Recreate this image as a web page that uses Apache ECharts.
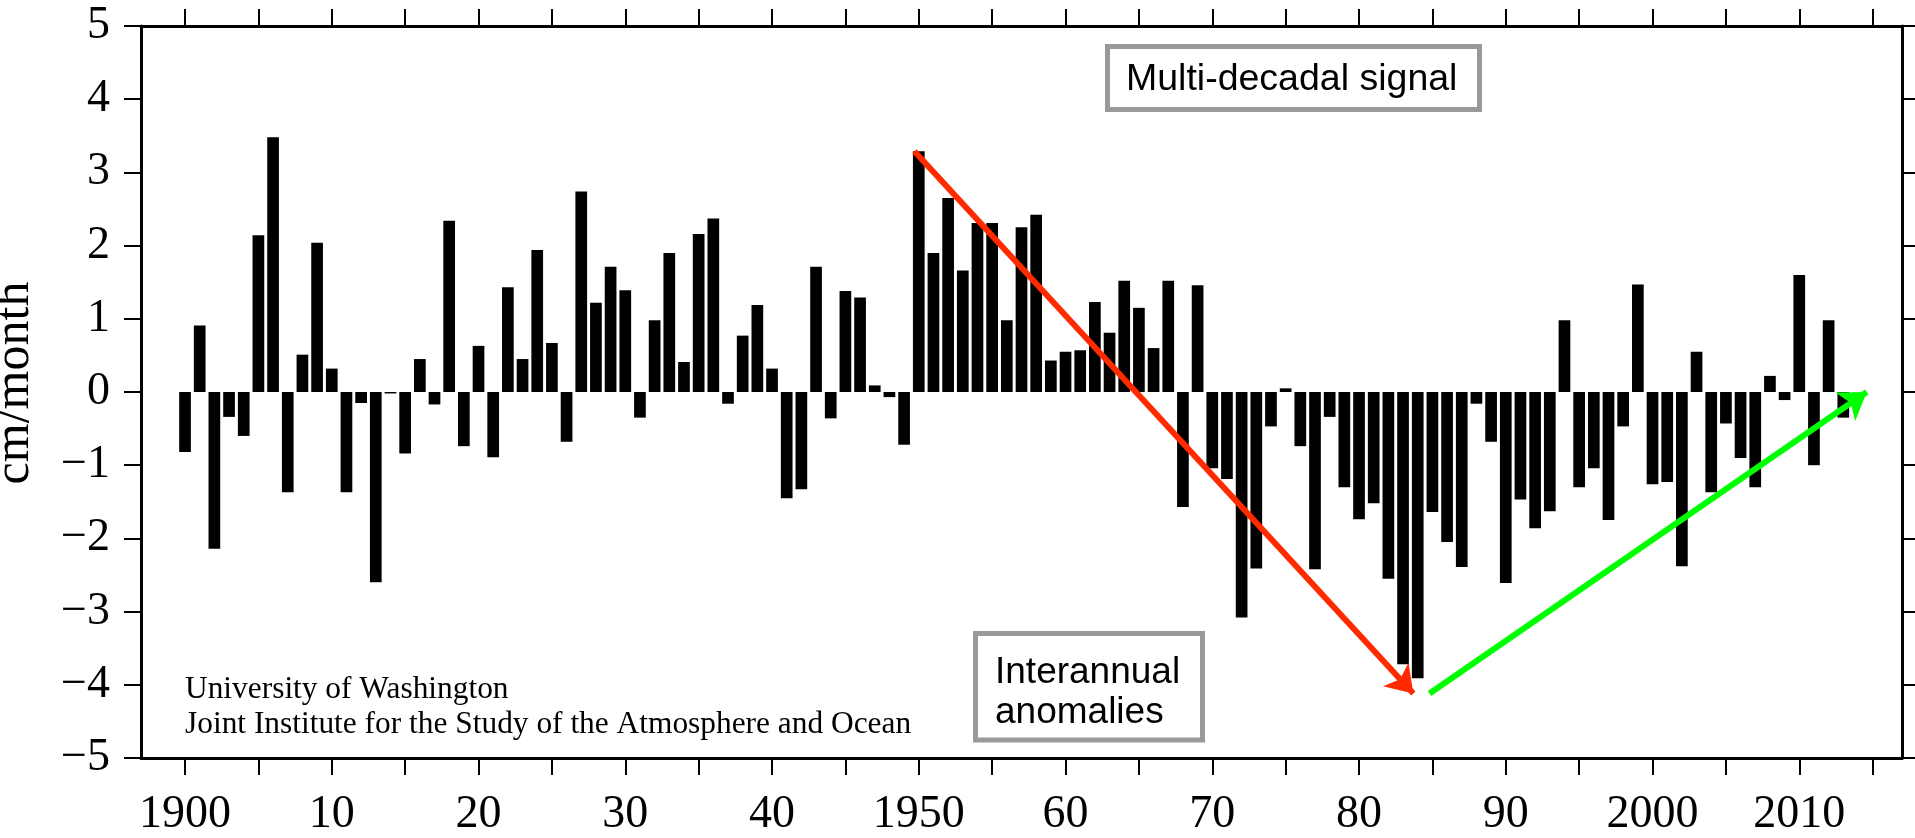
<!DOCTYPE html>
<html><head><meta charset="utf-8">
<script src="https://cdn.jsdelivr.net/npm/echarts@6/dist/echarts.min.js"></script>
<style>html,body{margin:0;padding:0;background:#fff}#chart{width:1915px;height:838px}</style>
</head><body><div id="chart"></div>
<script>
// ---- data ----
const firstYear = 1900;
const anomalies1900to1949 = [
  -0.82, 0.91, -2.14, -0.34, -0.60, 2.14, 3.48, -1.37, 0.51, 2.04,
   0.32, -1.37, -0.15, -2.60, -0.02, -0.84, 0.45, -0.17, 2.34, -0.74,
   0.63, -0.89, 1.43, 0.45, 1.94, 0.67, -0.68, 2.74, 1.22, 1.71,
   1.39, -0.35, 0.98, 1.90, 0.41, 2.16, 2.37, -0.16, 0.77, 1.19,
   0.32, -1.45, -1.33, 1.71, -0.36, 1.38, 1.29, 0.09, -0.07, -0.72
];
const anomalies1950to2013 = [
   3.29, 1.90, 2.65, 1.66, 2.31, 2.31, 0.98, 2.25, 2.42, 0.43,
   0.55, 0.57, 1.23, 0.81, 1.52, 1.15, 0.60, 1.52, -1.57, 1.46,
  -1.04, -1.19, -3.08, -2.41, -0.47, 0.05, -0.74, -2.42, -0.34, -1.30,
  -1.74, -1.52, -2.55, -3.72, -3.91, -1.64, -2.05, -2.39, -0.16, -0.68,
  -2.61, -1.47, -1.86, -1.63, 0.98, -1.30, -1.04, -1.75, -0.47, 1.47,
  -1.26, -1.23, -2.38, 0.55, -1.37, -0.43, -0.90, -1.30, 0.22, -0.11,
   1.60, -1.00, 0.98, -0.35
];
const xTickYears = [1900,1905,1910,1915,1920,1925,1930,1935,1940,1945,1950,1955,
                    1960,1965,1970,1975,1980,1985,1990,1995,2000,2005,2010,2015];
const xLabelYears = [1900,1910,1920,1930,1940,1950,1960,1970,1980,1990,2000,2010];
const xLabelTexts = ['1900','10','20','30','40','1950','60','70','80','90','2000','2010'];
const redArrow = [[1949.7, 3.29], [1983.7, -4.12]];
const greenArrow = [[1984.8, -4.12], [2014.6, 0.0]];

// ---- build ----
const anomalies = anomalies1900to1949.concat(anomalies1950to2013);
const barData = anomalies.map((v, i) => [firstYear + i, v]);

const serif = '"Liberation Serif", "Times New Roman", serif';
const sans = '"Liberation Sans", Arial, Helvetica, sans-serif';
const axisLineStyle = { color: '#000', width: 3 };
const tickStyle = { color: '#000', width: 2 };

const chart = echarts.init(document.getElementById('chart'), null, { renderer: 'canvas' });
chart.setOption({
  animation: false,
  backgroundColor: '#fff',
  grid: { left: 141, top: 26, width: 1761, height: 732, containLabel: false, outerBoundsMode: 'none' },
  xAxis: [
    {
      type: 'value', position: 'bottom', min: 1897, max: 2017,
      axisLine: { show: true, onZero: false, lineStyle: axisLineStyle },
      axisTick: { show: true, length: 17, lineStyle: tickStyle, customValues: xTickYears },
      axisLabel: {
        show: true, margin: 34, fontFamily: serif, fontSize: 46, color: '#000',
        customValues: xLabelYears,
        formatter: v => { const k = xLabelYears.indexOf(Math.round(v)); return k >= 0 ? xLabelTexts[k] : ''; }
      },
      splitLine: { show: false }
    },
    {
      type: 'value', position: 'top', min: 1897, max: 2017,
      axisLine: { show: true, onZero: false, lineStyle: axisLineStyle },
      axisTick: { show: true, length: 17, lineStyle: tickStyle, customValues: xTickYears },
      axisLabel: { show: false },
      splitLine: { show: false }
    }
  ],
  yAxis: [
    {
      type: 'value', position: 'left', min: -5, max: 5, interval: 1,
      name: 'cm/month', nameLocation: 'middle', nameGap: 101, nameRotate: 90,
      nameTextStyle: { fontFamily: serif, fontSize: 50, color: '#000', padding: [0, 0, 0, 18] },
      axisLine: { show: true, onZero: false, lineStyle: axisLineStyle },
      axisTick: { show: true, length: 17, lineStyle: tickStyle },
      axisLabel: {
        margin: 31, fontFamily: serif, fontSize: 46, color: '#000',
        formatter: v => v < 0 ? '\u2212' + Math.abs(v) : String(v)
      },
      splitLine: { show: false }
    },
    {
      type: 'value', position: 'right', min: -5, max: 5, interval: 1,
      axisLine: { show: true, onZero: false, lineStyle: axisLineStyle },
      axisTick: { show: true, length: 13, lineStyle: tickStyle },
      axisLabel: { show: false },
      splitLine: { show: false }
    }
  ],
  series: [
    {
      type: 'bar', xAxisIndex: 0, yAxisIndex: 0,
      data: barData, barWidth: 11.7,
      itemStyle: { color: '#000' },
      emphasis: { disabled: true },
      silent: true,
      markLine: {
        silent: true, animation: false,
        symbol: ['none', 'arrow'], symbolSize: 26,
        label: { show: false },
        emphasis: { disabled: true },
        lineStyle: { width: 6, type: 'solid' },
        data: [
          [{ coord: redArrow[0], lineStyle: { color: '#ff2a00', width: 6, type: 'solid' } },
           { coord: redArrow[1], lineStyle: { color: '#ff2a00', width: 6, type: 'solid' } }],
          [{ coord: greenArrow[0], lineStyle: { color: '#00ff00', width: 6, type: 'solid' } },
           { coord: greenArrow[1], lineStyle: { color: '#00ff00', width: 6, type: 'solid' } }]
        ]
      }
    }
  ],
  graphic: [
    { type: 'rect', z: 100, shape: { x: 1107.5, y: 46.5, width: 372, height: 63 },
      style: { fill: '#fff', stroke: '#999', lineWidth: 5 } },
    { type: 'text', z: 101, x: 1126, y: 80,
      style: { text: 'Multi-decadal signal', font: '37.5px ' + sans, fill: '#000', verticalAlign: 'middle', align: 'left' } },
    { type: 'rect', z: 100, shape: { x: 975.5, y: 633.5, width: 227, height: 106.5 },
      style: { fill: '#fff', stroke: '#999', lineWidth: 5 } },
    { type: 'text', z: 101, x: 995, y: 693,
      style: { text: 'Interannual\nanomalies', font: '37px ' + sans, lineHeight: 40, fill: '#000', verticalAlign: 'middle', align: 'left' } },
    { type: 'text', z: 101, x: 185, y: 707,
      style: { text: 'University of Washington\nJoint Institute for the Study of the Atmosphere and Ocean',
               font: '31.4px ' + serif, lineHeight: 35, fill: '#000', verticalAlign: 'middle', align: 'left' } }
  ]
});
</script>
</body></html>
